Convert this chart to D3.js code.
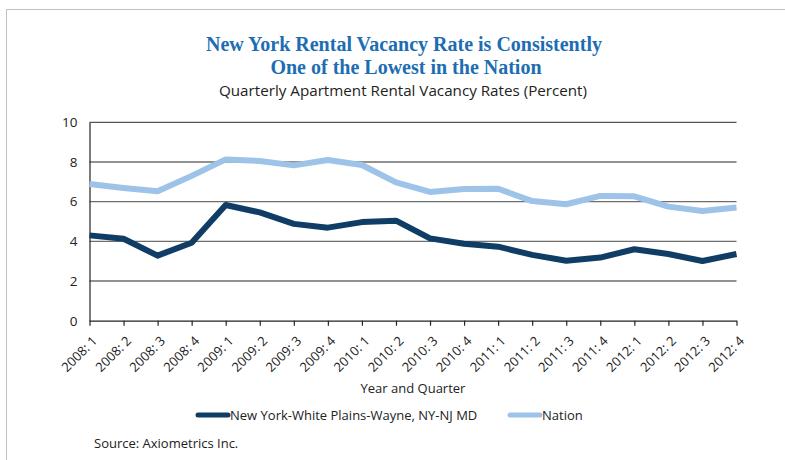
<!DOCTYPE html>
<html><head><meta charset="utf-8">
<script src="https://cdn.jsdelivr.net/npm/d3@7/dist/d3.min.js"></script>
<style>body{margin:0;background:#fff}svg{display:block}</style>
</head><body><svg id="c" width="785" height="460"></svg>
<script>
const quarters = ["2008: 1","2008: 2","2008: 3","2008: 4","2009: 1","2009: 2","2009: 3","2009: 4","2010: 1","2010: 2","2010: 3","2010: 4","2011: 1","2011: 2","2011: 3","2011: 4","2012: 1","2012: 2","2012: 3","2012: 4"];
const newYork = [4.3,4.13,3.28,3.93,5.83,5.46,4.88,4.69,4.97,5.04,4.15,3.88,3.73,3.32,3.02,3.18,3.6,3.36,3.01,3.36];
const nation = [6.89,6.69,6.52,7.3,8.13,8.05,7.83,8.1,7.85,6.97,6.49,6.64,6.65,6.03,5.87,6.29,6.27,5.75,5.53,5.71];
const yTicks = [0,2,4,6,8,10];
const seriesNames = ["New York-White Plains-Wayne, NY-NJ MD","Nation"];
const colors = ["#0f3d66","#9ec3e8"];

const svg = d3.select("#c");
const L=89.5, R=736.5, T=122.3, B=320.7;
svg.append("path").attr("d","M6.5,460 V9.5 H785").attr("fill","none").attr("stroke","#c0c0c0").attr("stroke-width",1);

const x = d3.scalePoint().domain(quarters).range([L,R]);
const y = d3.scaleLinear().domain([0,10]).range([B,T]);

svg.append("g").selectAll("line").data(yTicks.filter(d=>d>0)).join("line")
  .attr("x1",L).attr("x2",R).attr("y1",d=>y(d)).attr("y2",d=>y(d))
  .attr("stroke",d=>d===10?"#555":"#6e6e6e").attr("stroke-width",1.3);

const ya = svg.append("g").attr("transform",`translate(${L},0)`)
  .call(d3.axisLeft(y).tickValues(yTicks).tickSize(0).tickPadding(12));
ya.select(".domain").attr("stroke","#222").attr("stroke-width",1.2);
ya.selectAll("text").attr("font-family","'Open Sans',sans-serif").attr("font-size",13.5).attr("fill","#222");

const xa = svg.append("g").attr("transform",`translate(0,${B})`)
  .call(d3.axisBottom(x).tickSize(5).tickSizeOuter(0));
xa.select(".domain").attr("stroke","#222").attr("stroke-width",1.2);
xa.selectAll(".tick line").attr("stroke","#222").attr("stroke-width",1.2);
xa.selectAll("text").attr("font-family","'Open Sans',sans-serif").attr("font-size",13).attr("fill","#222")
  .attr("text-anchor","end").attr("y",0).attr("dy",0).attr("dx",0)
  .attr("transform","translate(8,21) rotate(-45)");

const line = d3.line().x((d,i)=>x(quarters[i])).y(d=>y(d));
[newYork,nation].forEach((s,i)=>{
  svg.append("path").datum(s).attr("d",line).attr("fill","none")
    .attr("stroke",colors[i]).attr("stroke-width",6).attr("stroke-linejoin","round");
});

svg.append("text").attr("x",404).attr("y",51).attr("text-anchor","middle")
  .attr("font-family","'Liberation Serif','DejaVu Serif',serif").attr("font-weight","bold").attr("font-size",20).attr("fill","#1d6db3")
  .text("New York Rental Vacancy Rate is Consistently");
svg.append("text").attr("x",406).attr("y",74).attr("text-anchor","middle")
  .attr("font-family","'Liberation Serif','DejaVu Serif',serif").attr("font-weight","bold").attr("font-size",20).attr("fill","#1d6db3")
  .text("One of the Lowest in the Nation");
svg.append("text").attr("x",403).attr("y",96).attr("text-anchor","middle")
  .attr("font-family","'Open Sans',sans-serif").attr("font-size",15.2).attr("fill","#222")
  .text("Quarterly Apartment Rental Vacancy Rates (Percent)");

svg.append("text").attr("x",413).attr("y",393).attr("text-anchor","middle")
  .attr("font-family","'Open Sans',sans-serif").attr("font-size",13).attr("fill","#222")
  .text("Year and Quarter");

const legX = [198,510];
seriesNames.forEach((n,i)=>{
  svg.append("line").attr("x1",legX[i]).attr("x2",legX[i]+30).attr("y1",415).attr("y2",415)
    .attr("stroke",colors[i]).attr("stroke-width",5).attr("stroke-linecap","round");
  svg.append("text").attr("x",legX[i]+32).attr("y",420)
    .attr("font-family","'Open Sans',sans-serif").attr("font-size",13).attr("fill","#222").text(n);
});

svg.append("text").attr("x",94).attr("y",448)
  .attr("font-family","'Open Sans',sans-serif").attr("font-size",13).attr("fill","#222")
  .text("Source: Axiometrics Inc.");
</script></body></html>
